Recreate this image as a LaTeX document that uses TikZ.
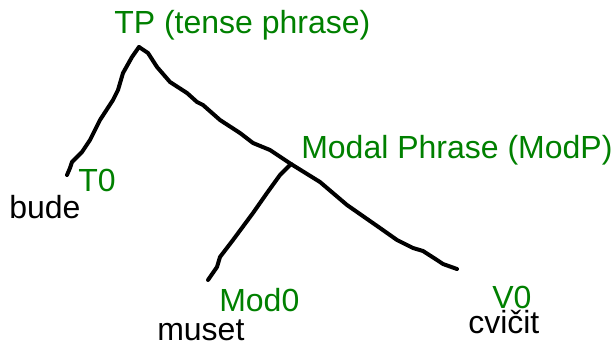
\documentclass[tikz,border=0pt]{standalone}
\usepackage{fontspec}
\setmainfont{Liberation Sans}
\usepackage{tikz}

\begin{document}
\begin{tikzpicture}[x=0.75pt,y=-0.75pt]
\tikzset{every node/.style={inner sep=0pt,anchor=base west,font=\fontsize{24}{28}\selectfont}}
\tikzset{cat/.style={text={rgb,255:red,0;green,128;blue,0}}}
\tikzset{word/.style={text=black}}
\tikzset{branch/.style={line width=3pt,line join=round,line cap=round}}
\useasboundingbox (0,0) rectangle (615,347);
% labels
\node[cat] (tp) at (114,33) {TP (tense phrase)};
\node[cat] (modp) at (301,158) {Modal Phrase (ModP)};
\node[cat] (t0) at (78,191) {T0};
\node[word] (bude) at (9,218) {bude};
\node[cat] (mod0) at (219,311) {Mod0};
\node[word] (muset) at (157,340) {muset};
\node[cat] (v0) at (492,308) {V0};
\node[word] (cvicit) at (468,333) {cvičit};
% branch ends
\coordinate (tp-top) at (139,47);
\coordinate (modp-top) at (291,164);
\coordinate (t0-end) at (67,175);
\coordinate (mod0-end) at (208,280);
\coordinate (v0-end) at (457,269);
% hand drawn branches
\draw[branch] (tp-top) -- (132,57) -- (123,73) -- (118,90) -- (113,100) -- (100,120)
  -- (90,140) -- (82,152) -- (72,162) -- (70,168) -- (t0-end);
\draw[branch] (tp-top) -- (148,53) -- (157,67) -- (170,82) -- (187,93) -- (197,102)
  -- (203,105) -- (220,120) -- (240,133) -- (253,143) -- (270,150) -- (modp-top);
\draw[branch] (modp-top) -- (320,182) -- (347,205) -- (380,228) -- (397,240)
  -- (413,248) -- (423,251) -- (437,260) -- (443,264) -- (v0-end);
\draw[branch] (modp-top) -- (280,175) -- (267,193) -- (253,213) -- (233,240)
  -- (220,257) -- (217,267) -- (mod0-end);
\end{tikzpicture}
\end{document}
